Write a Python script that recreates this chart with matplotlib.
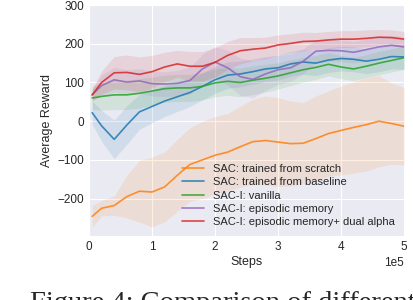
import numpy as np
import matplotlib
matplotlib.use("Agg")
from matplotlib import pyplot as plt

# training steps (x 1e5)
steps = [0.05, 0.2, 0.4, 0.6, 0.8, 1.0, 1.2, 1.4, 1.6, 1.8, 2.0, 2.2, 2.4,
         2.6, 2.8, 3.0, 3.2, 3.4, 3.6, 3.8, 4.0, 4.2, 4.4, 4.6, 4.8, 5.0]

scratch = [-246, -225, -218, -195, -181, -183, -170, -140, -112, -100, -88, -80, -66,
           -53, -50, -54, -58, -57, -45, -32, -24, -16, -9, 0, -6, -13]
scratch_sd = [28, 20, 25, 55, 80, 90, 90, 93, 95, 100, 100, 100, 105,
              110, 115, 115, 110, 105, 110, 110, 115, 118, 120, 118, 105, 100]

baseline = [22, -12, -47, -10, 24, 38, 52, 63, 74, 90, 107, 119, 122,
            128, 135, 138, 148, 153, 150, 158, 162, 160, 155, 160, 167, 166]
baseline_sd = [30, 40, 50, 50, 45, 42, 40, 38, 36, 35, 35, 34, 33,
               33, 32, 32, 32, 32, 32, 32, 32, 32, 32, 32, 32, 32]

vanilla = [60, 64, 68, 68, 72, 78, 84, 86, 86, 90, 99, 103, 100,
           106, 111, 117, 125, 133, 139, 147, 140, 135, 142, 150, 157, 164]
vanilla_sd = [30, 35, 38, 38, 38, 36, 35, 35, 35, 35, 36, 36, 37,
              37, 36, 34, 33, 32, 31, 30, 30, 30, 30, 30, 30, 30]

episodic = [68, 92, 107, 101, 104, 97, 96, 98, 105, 135, 153, 138, 115,
            108, 122, 133, 138, 155, 181, 183, 182, 178, 185, 192, 196, 192]
episodic_sd = [15, 28, 32, 32, 32, 32, 32, 33, 35, 38, 40, 45, 48,
               48, 42, 38, 35, 32, 30, 28, 28, 28, 27, 27, 26, 26]

dual = [68, 100, 125, 126, 121, 128, 140, 148, 142, 142, 152, 170, 182,
        186, 189, 197, 201, 206, 207, 210, 212, 212, 214, 217, 216, 212]
dual_sd = [15, 30, 42, 45, 45, 42, 38, 35, 38, 38, 38, 36, 34,
           30, 28, 26, 25, 24, 22, 22, 22, 22, 22, 20, 20, 20]

labels = ["SAC: trained from scratch", "SAC: trained from baseline", "SAC-I: vanilla",
          "SAC-I: episodic memory", "SAC-I: episodic memory+ dual alpha"]
colors = ["#ff7f0e", "#1f77b4", "#2ca02c", "#9467bd", "#d62728"]

plt.style.use("seaborn-v0_8-darkgrid")
fig = plt.figure(figsize=(4.14, 3.0), dpi=100)
ax = fig.add_axes([0.215, 0.213, 0.761, 0.77])

x = np.array(steps) * 1e5
series = [(scratch, scratch_sd), (baseline, baseline_sd), (vanilla, vanilla_sd),
          (episodic, episodic_sd), (dual, dual_sd)]
for (m, s), lab, c in zip(series, labels, colors):
    m = np.array(m)
    s = np.array(s)
    ax.fill_between(x, m - s, m + s, color=c, alpha=0.12, lw=0)
    ax.plot(x, m, color=c, lw=1.2, alpha=0.85, label=lab)

ax.set_xlim(0, 5e5)
ax.set_ylim(-297, 300)
ax.set_yticks([-200, -100, 0, 100, 200, 300])
ax.ticklabel_format(axis="x", style="sci", scilimits=(0, 0))
ax.tick_params(labelsize=8.5)
ax.xaxis.get_offset_text().set_fontsize(8.5)
ax.set_xlabel("Steps", fontsize=9, labelpad=2)
ax.set_ylabel("Average Reward", fontsize=9, labelpad=3)

ax.legend(loc="lower right", frameon=False, fontsize=8, handlelength=2.0,
          labelspacing=0.3, borderaxespad=0.4)

# caption of the paper figure, cut off at the bottom edge
fig.text(0.072, -0.035, "Figure 4: Comparison of different", fontsize=20.5,
         family="Liberation Serif", va="baseline")

fig.savefig("out.png", dpi=100)
